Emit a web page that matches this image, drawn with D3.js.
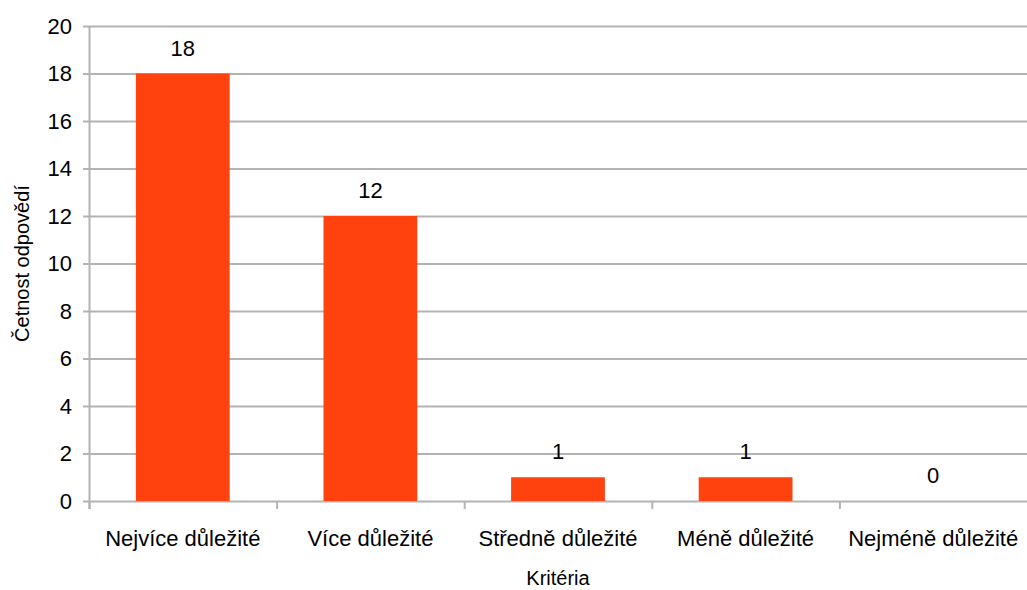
<!DOCTYPE html>
<html><head><meta charset="utf-8">
<script src="https://cdn.jsdelivr.net/npm/d3@7"></script>
<style>body{margin:0;background:#fff}text{font-family:"Liberation Sans",Arial,sans-serif;fill:#000}</style>
</head><body>
<svg id="c" width="1027" height="590"></svg>
<script>
const categories = ["Nejvíce důležité","Více důležité","Středně důležité","Méně důležité","Nejméně důležité"];
const values = [18,12,1,1,0];
const yTicks = [0,2,4,6,8,10,12,14,16,18,20];
const yTitle = "Četnost odpovědí";
const xTitle = "Kritéria";

const svg = d3.select("#c");
const L=89, R=1027, T=26, B=501;
const x = d3.scaleBand().domain(categories).range([L,R]).paddingInner(0.5).paddingOuter(0.25);
const xb = d3.scaleBand().domain(categories).range([L,R]);
const y = d3.scaleLinear().domain([0,20]).range([B,T]);
const grid="#b3b3b3";

svg.append("g").selectAll("line").data(yTicks).join("line")
  .attr("x1",L-6).attr("x2",R).attr("y1",d=>y(d)+0.5).attr("y2",d=>y(d)+0.5)
  .attr("stroke",grid).attr("stroke-width",2);
svg.append("line").attr("x1",L+0.5).attr("x2",L+0.5).attr("y1",T).attr("y2",B+8).attr("stroke",grid).attr("stroke-width",2);
const bounds = categories.map(c=>xb(c));
svg.append("g").selectAll("line").data(bounds).join("line")
  .attr("x1",d=>d+0.5).attr("x2",d=>d+0.5).attr("y1",B).attr("y2",B+8)
  .attr("stroke",grid).attr("stroke-width",2);
svg.append("g").selectAll("text").data(yTicks).join("text")
  .attr("x",L-17).attr("y",d=>y(d)).attr("dy","0.36em").attr("text-anchor","end")
  .style("font-size","22px").text(d=>d);
svg.append("g").selectAll("rect").data(values).join("rect")
  .attr("x",(d,i)=>x(categories[i])).attr("width",x.bandwidth())
  .attr("y",d=>y(d)).attr("height",d=>B-y(d)).attr("fill","#ff420e");
svg.append("g").selectAll("text").data(values).join("text")
  .attr("x",(d,i)=>x(categories[i])+x.bandwidth()/2).attr("y",d=>y(d)-18)
  .attr("text-anchor","middle").style("font-size","22px").text(d=>d);
svg.append("g").selectAll("text").data(categories).join("text")
  .attr("x",d=>xb(d)+xb.bandwidth()/2).attr("y",546)
  .attr("text-anchor","middle").style("font-size","22px").text(d=>d);
svg.append("text").attr("x",(L+R)/2).attr("y",585).attr("text-anchor","middle").style("font-size","20px").text(xTitle);
svg.append("text").attr("transform",`translate(29,${(T+B)/2}) rotate(-90)`).attr("text-anchor","middle").style("font-size","20px").text(yTitle);
</script>
</body></html>
